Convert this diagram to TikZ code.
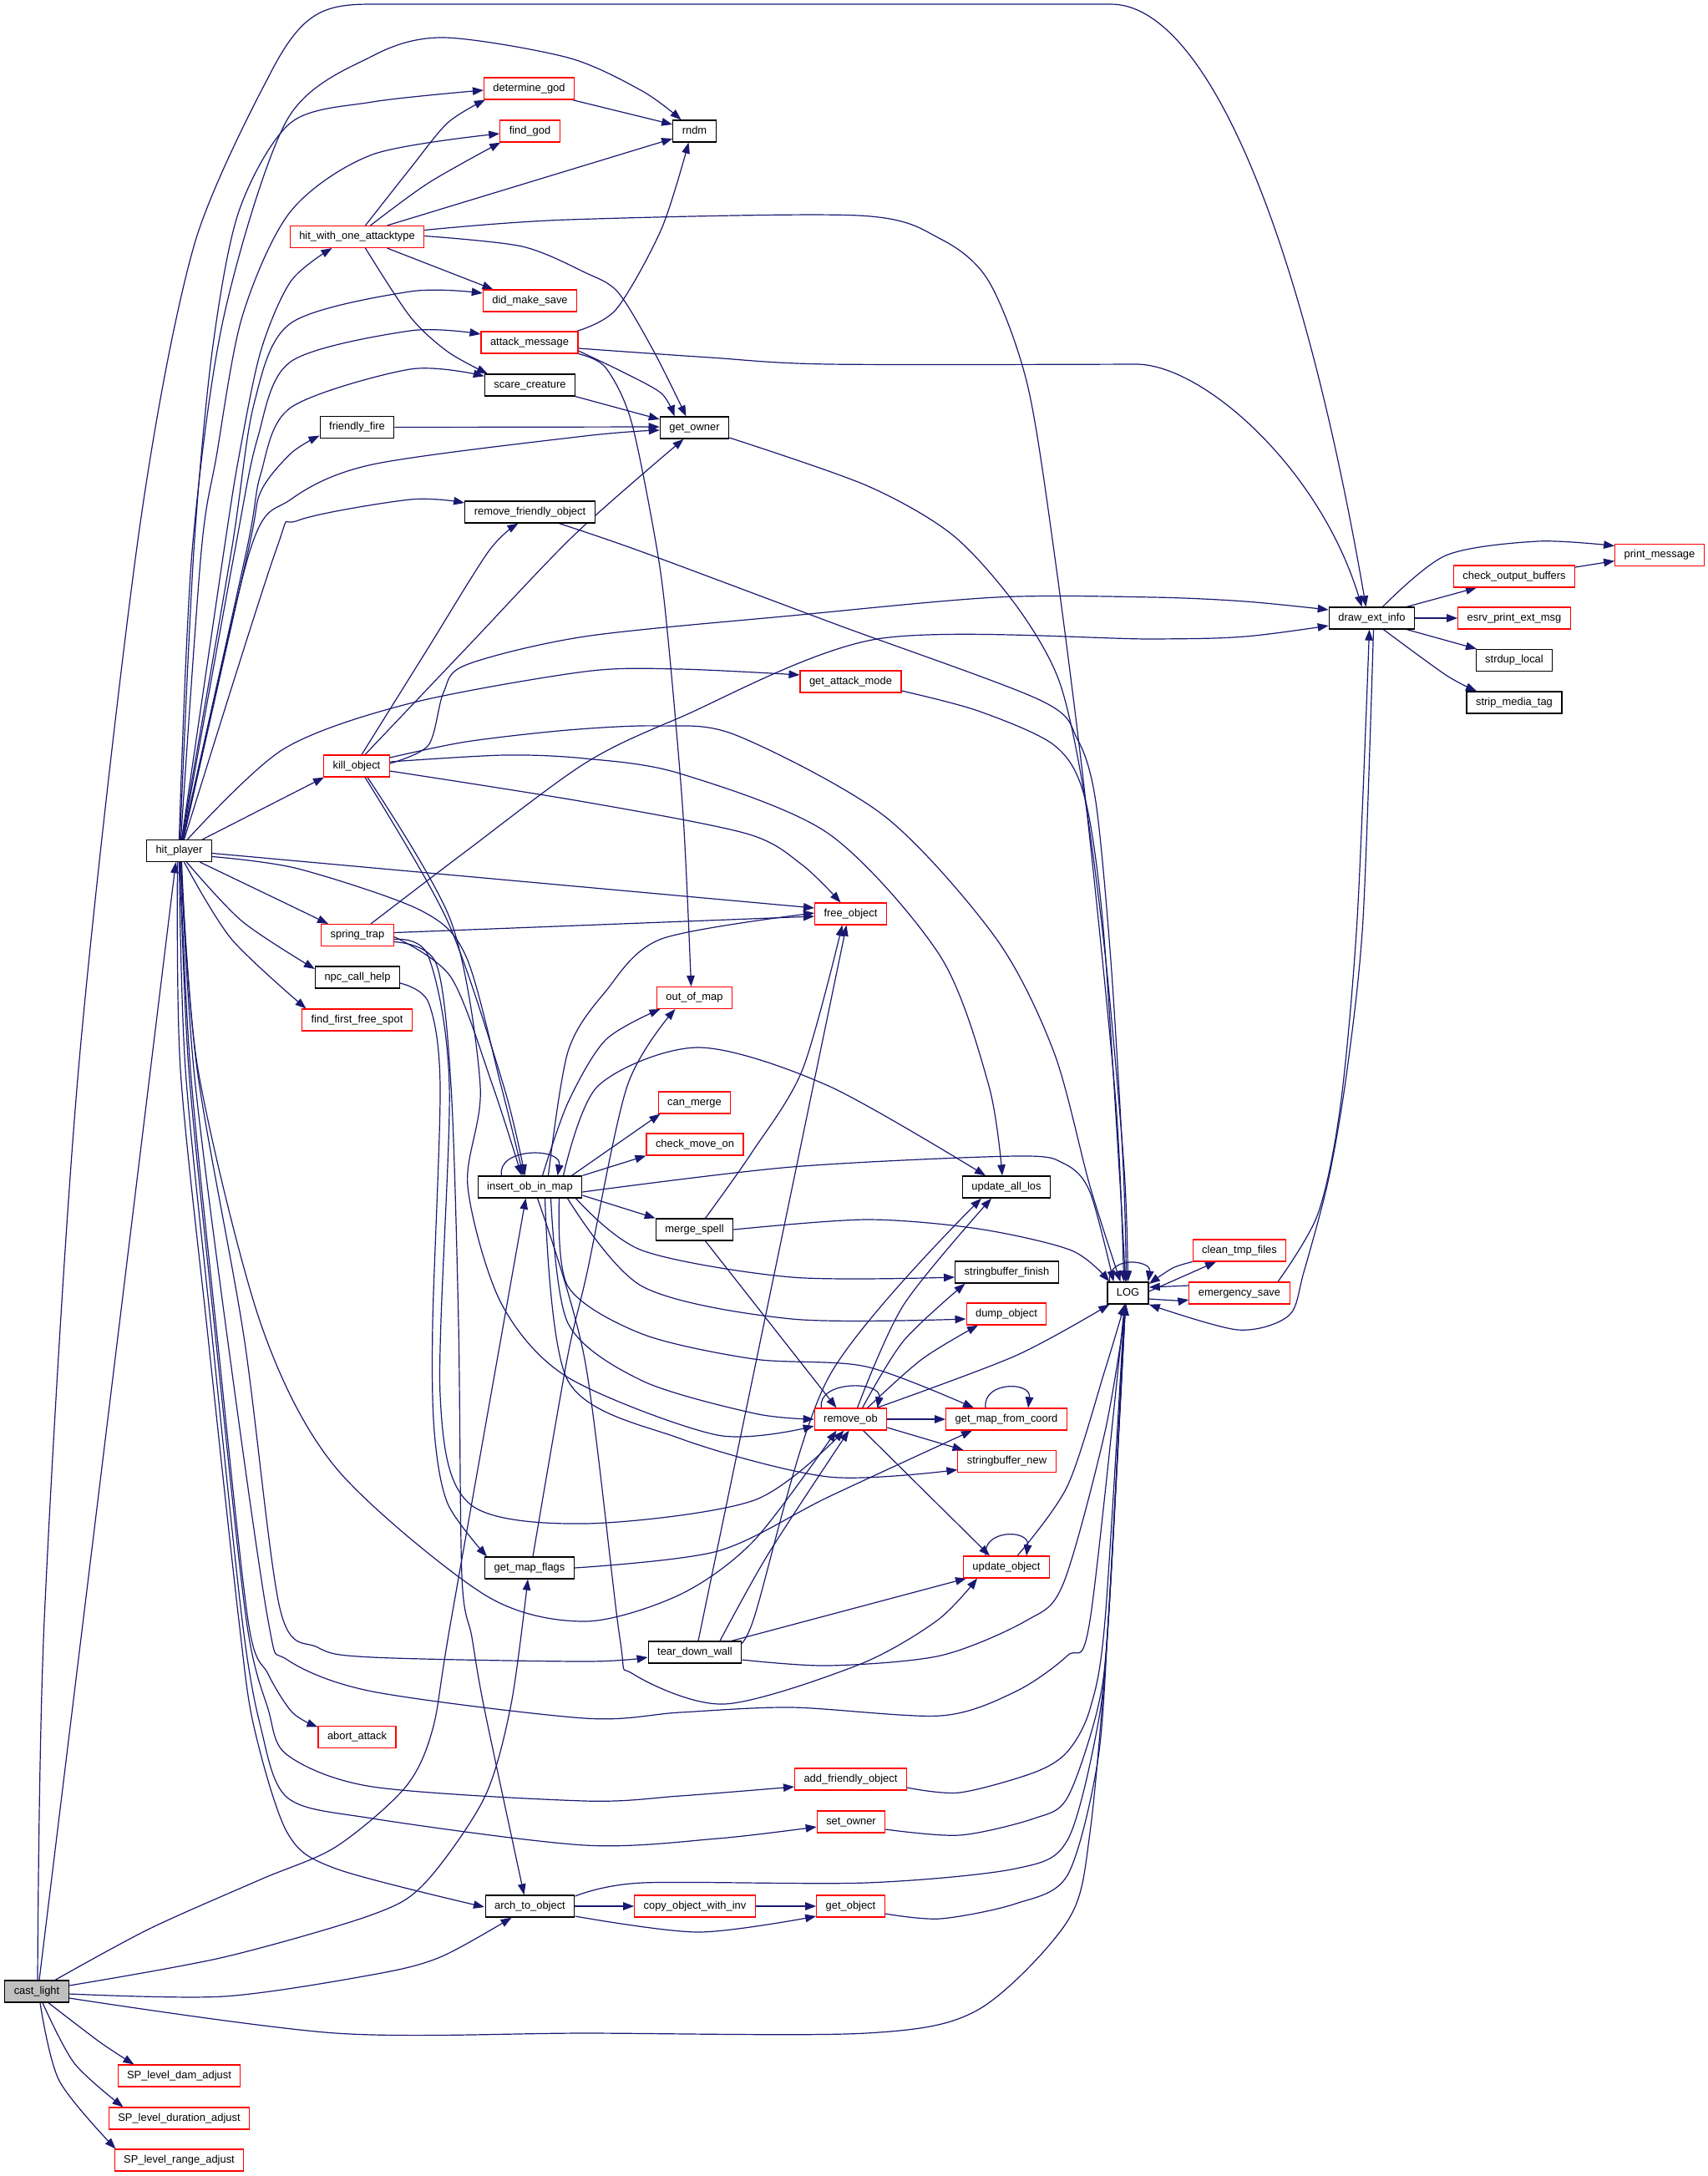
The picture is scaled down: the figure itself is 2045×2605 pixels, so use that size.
\documentclass[tikz,border=0pt]{standalone}
\usepackage{fontspec}
\setmainfont{Liberation Sans}
\usetikzlibrary{arrows.meta}
\pgfdeclarelayer{bg}
\pgfsetlayers{bg,main}
\definecolor{edgeblue}{RGB}{25,25,112}
\definecolor{nodered}{RGB}{255,0,0}
\definecolor{nodegray}{RGB}{191,191,191}
\newcommand\nodefont{\fontsize{12.9}{15}\selectfont}
\tikzset{
  fnb/.style={draw=black, line width=1.3pt, fill=white, minimum height=26pt, inner xsep=11pt, inner ysep=0pt, font=\nodefont, text height=9.6pt, text depth=2.7pt},
  fnr/.style={fnb, draw=nodered, line width=1.1pt},
  fng/.style={fnb, fill=nodegray},
  e/.style={color=edgeblue, line width=1.2pt, -{Triangle[length=13pt,width=9.5pt]}},
  sm/.style={smooth, tension=0.5}
}
\begin{document}
\begin{tikzpicture}[x=1pt,y=-1pt]
\useasboundingbox (0,0) rectangle (2045,2605);
% ---------------- nodes
\node[fng] (cl) at (44,2384) {cast\_light};
\node[fnb] (hp) at (214.5,1018.5) {hit\_player};
\node[fnr] (sld) at (214.5,2485) {SP\_level\_dam\_adjust};
\node[fnr] (sldu) at (214.5,2536) {SP\_level\_duration\_adjust};
\node[fnr] (slr) at (214.5,2586) {SP\_level\_range\_adjust};
\node[fnr] (hwoa) at (427.5,283.5) {hit\_with\_one\_attacktype};
\node[fnb] (ff) at (427.5,511.5) {friendly\_fire};
\node[fnr] (ko) at (427,917) {kill\_object};
\node[fnr] (st) at (428,1119.5) {spring\_trap};
\node[fnb] (npc) at (428,1170) {npc\_call\_help};
\node[fnr] (fffs) at (427.5,1221) {find\_first\_free\_spot};
\node[fnr] (aa) at (427.5,2079.5) {abort\_attack};
\node[fnr] (dg) at (633.5,106) {determine\_god};
\node[fnr] (fg) at (634.5,157) {find\_god};
\node[fnr] (dms) at (634.5,360) {did\_make\_save};
\node[fnr] (am) at (634,410) {attack\_message};
\node[fnb] (sc) at (634.5,461) {scare\_creature};
\node[fnb] (rfo) at (634.5,613) {remove\_friendly\_object};
\node[fnb] (iom) at (634.5,1421) {insert\_ob\_in\_map};
\node[fnb] (gmf) at (634,1877) {get\_map\_flags};
\node[fnb] (ato) at (634.5,2282) {arch\_to\_object};
\node[fnb] (rndm) at (831.5,157) {rndm};
\node[fnb] (go) at (831.5,512) {get\_owner};
\node[fnr] (oom) at (831.5,1194.5) {out\_of\_map};
\node[fnr] (cm) at (831.5,1320) {can\_merge};
\node[fnr] (cmo) at (832,1370) {check\_move\_on};
\node[fnb] (ms) at (831.5,1472) {merge\_spell};
\node[fnb] (tdw) at (832,1978) {tear\_down\_wall};
\node[fnr] (cowi) at (832,2282) {copy\_object\_with\_inv};
\node[fnr] (gam) at (1018.5,816) {get\_attack\_mode};
\node[fnr] (fo) at (1018.5,1094) {free\_object};
\node[fnr] (rob) at (1018.5,1699) {remove\_ob};
\node[fnr] (afo) at (1018.5,2130) {add\_friendly\_object};
\node[fnr] (so) at (1019,2181) {set\_owner};
\node[fnr] (gob) at (1018.5,2282) {get\_object};
\node[fnb] (ual) at (1205,1421) {update\_all\_los};
\node[fnb] (sbf) at (1205.5,1523) {stringbuffer\_finish};
\node[fnr] (dob) at (1205,1573) {dump\_object};
\node[fnr] (gmc) at (1205,1699) {get\_map\_from\_coord};
\node[fnr] (sbn) at (1205.5,1749.5) {stringbuffer\_new};
\node[fnr] (uo) at (1205,1876) {update\_object};
\node[fnb] (log) at (1350.5,1548) {LOG};
\node[fnr] (ctf) at (1484,1497) {clean\_tmp\_files};
\node[fnr] (es) at (1484,1548) {emergency\_save};
\node[fnb] (dei) at (1642.5,740) {draw\_ext\_info};
\node[fnr] (cob) at (1813,690) {check\_output\_buffers};
\node[fnr] (epem) at (1813,740) {esrv\_print\_ext\_msg};
\node[fnb] (sdl) at (1813,790.5) {strdup\_local};
\node[fnb] (smt) at (1813,841) {strip\_media\_tag};
\node[fnr] (pm) at (1987,664.5) {print\_message};
% ---------------- edges
\begin{pgfonlayer}{bg}
% cast_light
\draw[e] plot[sm] coordinates {([xshift=1]cl.north) (53,1940) (94,1280) (166,640) (232,295) (320,95)} .. controls (360,15) and (385,5) .. (445,5) -- (1330,5) .. controls (1440,5) and (1555,260) .. ([xshift=-7]dei.north);
\draw[e] ([xshift=3]cl.north) -- ([xshift=-4]hp.south);
\draw[e] plot[sm] coordinates {([xshift=22]cl.north) (179,2309) (312,2250) (402,2211) (485,2140) (518,2070) (540,1940) ([xshift=-5]iom.south)};
\draw[e] plot[sm] coordinates {([yshift=7]cl.east) (268,2343) (446,2292) (509,2254) (580,2152) (612,2040) ([xshift=-2]gmf.south)};
\draw[e] plot[sm] coordinates {([yshift=-3]cl.east) (268,2390) (446,2364) (527,2343) ([xshift=-22]ato.south)};
\draw[e] plot[sm] coordinates {([yshift=-8]cl.east) (402,2434) (700,2434) (1037,2434) (1171,2406) (1278,2300) (1305,2194) (1327,1940) ([xshift=-4]log.south)};
\draw[e] plot[sm] coordinates {([xshift=14]cl.south) (120,2445) ([xshift=-54]sld.north)};
\draw[e] plot[sm] coordinates {([xshift=7]cl.south) (89,2470) ([xshift=-67]sldu.north)};
\draw[e] plot[sm] coordinates {([xshift=4]cl.south) (71,2491) ([xshift=-76]slr.north)};
% hit_player, upward
\draw[e] plot[sm] coordinates {([xshift=1]hp.north) (232,660) (254,421) (286,253) (348,147) (446,122) ([yshift=-2]dg.west)};
\draw[e] plot[sm] coordinates {([xshift=2]hp.north) (241,660) (259,547) (290,379) (348,253) (446,185) ([yshift=-3]fg.west)};
\draw[e] plot[sm] coordinates {([xshift=3]hp.north) (268,660) (286,547) (312,421) (348,337) ([xshift=-30]hwoa.south)};
\draw[e] plot[sm] coordinates {([xshift=3]hp.north) (277,660) (304,484) (348,387) (491,349) ([yshift=9]dms.west)};
\draw[e] plot[sm] coordinates {([xshift=4]hp.north) (281,660) (308,526) (348,433) (491,396) ([yshift=10]am.west)};
\draw[e] plot[sm] coordinates {([xshift=4]hp.north) (295,660) (312,568) (348,488) (491,442) ([yshift=-3]sc.north west)};
\draw[e] plot[sm] coordinates {([xshift=5]hp.north) (297,660) (312,589) (348,543) ([yshift=-10]ff.west)};
\draw[e] plot[sm] coordinates {([xshift=5]hp.north) (299,660) (348,598) (446,556) (700,522) ([yshift=-3]go.west)};
\draw[e] plot[sm] coordinates {([xshift=6]hp.north) (330,660) (357,623) (491,598) ([yshift=11]rfo.west)};
\draw[e] plot[sm] coordinates {(hp.north) (230,660) (268,379) (344,143) (446,67) (531,45) (680,69) (769,109) ([xshift=-16]rndm.north)};
\draw[e] plot[sm] coordinates {([xshift=10]hp.north) (339,897) (491,842) (700,804) (814,801) ([yshift=8]gam.west)};
\draw[e] ([xshift=28]hp.north) -- ([xshift=-39]ko.south);
\draw[e] ([yshift=-3]hp.east) -- ([yshift=7]fo.west);
\draw[e] plot[sm] coordinates {([yshift=-7]hp.east) (357,1040) (504,1090) (558,1145) (600,1300) ([xshift=-8]iom.north)};
\draw[e] plot[sm] coordinates {([xshift=25]hp.south) (335,1078) ([xshift=-35]st.north)};
\draw[e] plot[sm] coordinates {([xshift=9]hp.south) (290,1103) ([yshift=10]npc.west)};
\draw[e] plot[sm] coordinates {([xshift=6]hp.south) (277,1124) ([xshift=-61]fffs.north)};
% hit_player, downward
\draw[e] plot[sm] coordinates {([xshift=-2]hp.south) (216,1280) (249,1600) (286,1940) (304,2067) (344,2194) (402,2237) (580,2283)};
\draw[e] plot[sm] coordinates {(hp.south) (222,1280) (254,1600) (290,1940) (312,2067) (344,2152) (446,2177) (700,2209) (859,2201) ([yshift=-6]so.west)};
\draw[e] plot[sm] coordinates {([xshift=1]hp.south) (226,1280) (258,1600) (295,1940) (321,2046) (344,2101) (446,2139) (700,2156) (814,2150) ([yshift=-9]afo.west)};
\draw[e] plot[sm] coordinates {([xshift=1]hp.south) (228,1280) (260,1600) (297,1940) (321,2004) (350,2050) ([yshift=12]aa.west)};
\draw[e] plot[sm] coordinates {([xshift=2]hp.south) (232,1280) (272,1600) (321,1940) (344,1987) (446,2025) (700,2057) (814,2050) (948,2044) (1126,2054) (1216,2025) (1278,1982) (1305,1940) ([xshift=-4]log.south)};
\draw[e] plot[sm] coordinates {([xshift=2]hp.south) (236,1280) (292,1600) (335,1925) (380,1972) (446,1984) (700,1989) ([yshift=-6]tdw.west)};
\draw[e] plot[sm] coordinates {([xshift=3]hp.south) (237,1280) (312,1584) (402,1757) (580,1909) (700,1941) (814,1909) (903,1844) ([xshift=-17]rob.south)};
% hit_with_one_attacktype
\draw[e] plot[sm] coordinates {([xshift=10]hwoa.north) (491,202) (536,147) ([xshift=2]dg.south west)};
\draw[e] plot[sm] coordinates {([xshift=16]hwoa.north) (513,219) ([xshift=1]fg.south west)};
\draw[e] ([xshift=36]hwoa.north) -- ([yshift=-9]rndm.west);
\draw[e] plot[sm] coordinates {([yshift=8]hwoa.east) (680,263) (1028,258) (1126,286) (1184,337) (1230,460) (1262,660) (1300,960) (1336,1320) ([xshift=-5]log.north)};
\draw[e] plot[sm] coordinates {([yshift=1]hwoa.east) (625,295) (700,326) (740,350) (783,421) ([xshift=-10]go.north)};
\draw[e] ([xshift=36]hwoa.south) -- ([xshift=-44]dms.north);
\draw[e] plot[sm] coordinates {([xshift=10]hwoa.south) (491,379) (536,421) ([xshift=4]sc.north west)};
\draw[e] ([xshift=-3]dg.south east) -- ([yshift=8]rndm.west);
% attack_message
\draw[e] plot[sm] coordinates {([xshift=-2]am.north east) (738,370) (792,274) ([xshift=-7]rndm.south)};
\draw[e] plot[sm] coordinates {([yshift=-7]am.east) (850,428) (992,436) (1360,436)} .. controls (1440,436) and (1580,560) .. ([xshift=-12]dei.north);
\draw[e] plot[sm] coordinates {([yshift=-10]am.east) (747,446) (792,471) ([xshift=-24]go.north)};
\draw[e] plot[sm] coordinates {(am.south east) (725,440) (756,505) (787,660) (800,766) (818,977) ([xshift=-4]oom.north)};
\draw[e] (sc.south east) -- ([yshift=10]go.west);
\draw[e] (ff.east) -- ([yshift=1]go.west);
% kill_object
\draw[e] plot[sm] coordinates {([xshift=10]ko.north) (560,774) (688,640) ([xshift=-13]go.south)};
\draw[e] plot[sm] coordinates {([xshift=6]ko.north) (510,780) (585,660) ([xshift=-14]rfo.south)};
\draw[e] plot[sm] coordinates {([yshift=3]ko.east) (513,892) (531,829) (558,796) (700,762) (948,737) (1193,715) (1380,715) (1491,720) ([yshift=10]dei.west)};
\draw[e] plot[sm] coordinates {([yshift=10]ko.east) (558,888) (680,874) (787,869) (881,880) (1059,977) (1193,1124) (1262,1260) (1305,1420) ([xshift=-9]log.north)};
\draw[e] plot[sm] coordinates {([yshift=5]ko.east) (603,904) (700,908) (814,926) (992,998) (1126,1145) (1184,1300) ([xshift=-5]ual.north)};
\draw[e] plot[sm] coordinates {([yshift=-6]ko.east) (700,960) (894,998) (960,1035) ([xshift=-12]fo.north)};
\draw[e] plot[sm] coordinates {([xshift=10]ko.south) (536,1103) (603,1300) ([xshift=-6]iom.north)};
\draw[e] plot[sm] coordinates {([xshift=13]ko.south) (540,1103) (575,1300) (560,1420) (600,1560) (680,1649) (859,1718) ([yshift=-8]rob.west)};
% remove_friendly_object, get_owner, get_attack_mode
\draw[e] plot[sm] coordinates {([xshift=35]rfo.south) (767,660) (1000,747) (1245,838) (1290,885) (1312,960) (1330,1150) (1345,1400) ([xshift=-2]log.north)};
\draw[e] plot[sm] coordinates {([yshift=-12]go.east) (1037,581) (1140,640) (1216,724) (1268,815) (1298,950) (1324,1150) (1346,1400) (log.north)};
\draw[e] plot[sm] coordinates {([yshift=-11]gam.east) (1171,851) (1262,892) (1298,952) (1320,1100) (1340,1400) ([xshift=-3]log.north)};
% spring_trap
\draw[e] plot[sm] coordinates {([xshift=16]st.north) (558,1019) (700,914) (814,859) (1050,765) (1380,765) (1491,762) ([yshift=-9]dei.west)};
\draw[e] ([yshift=3]st.east) -- ([yshift=-3]fo.west);
\draw[e] plot[sm] coordinates {([yshift=-2]st.east) (540,1170) (590,1300) ([xshift=-10]iom.north)};
\draw[e] plot[sm] coordinates {([yshift=-5]st.east) (513,1145) (538,1300) (527,1670) (562,1800) (700,1824) (903,1796) ([xshift=-8]rob.south)};
\draw[e] plot[sm] coordinates {([yshift=-8]st.east) (522,1153) (540,1300) (549,1584) (553,1887) (565,1960) (580,2046) ([xshift=-7]ato.north)};
\draw[e] plot[sm] coordinates {([yshift=-7]npc.east) (513,1200) (527,1300) (518,1584) (520,1714) (536,1800) ([xshift=-51]gmf.north)};
% insert_ob_in_map
\draw[e] ([xshift=-34]iom.north) .. controls +(-6,-34) and +(6,-34) .. ([xshift=33]iom.north);
\draw[e] plot[sm] coordinates {([xshift=15]iom.north) (680,1320) (725,1245) ([xshift=-41]oom.south)};
\draw[e] plot[sm] coordinates {([xshift=22]iom.north) (680,1259) (725,1187) (792,1124) ([yshift=1]fo.west)};
\draw[e] plot[sm] coordinates {([xshift=40]iom.north) (716,1300) (836,1254) (992,1300) ([xshift=-25]ual.north)};
\draw[e] ([xshift=50]iom.north) -- ([xshift=-41]cm.south);
\draw[e] (iom.north east) -- (cmo.south west);
\draw[e] plot[sm] coordinates {([yshift=-6]iom.east) (948,1397) (1216,1384) (1274,1393) (1305,1427) ([xshift=8]log.north west)};
\draw[e] ([yshift=-10]iom.east) -- (ms.north west);
\draw[e] plot[sm] coordinates {([xshift=55]iom.south) (769,1497) (948,1529) ([yshift=-6]sbf.west)};
\draw[e] plot[sm] coordinates {([xshift=45]iom.south) (769,1540) (948,1579) ([yshift=-6]dob.west)};
\draw[e] plot[sm] coordinates {([xshift=35]iom.south) (680,1540) (769,1597) (903,1627) (1037,1636) ([xshift=-39]gmc.north)};
\draw[e] plot[sm] coordinates {([xshift=25]iom.south) (680,1584) (769,1653) (903,1692) (rob.west)};
\draw[e] plot[sm] coordinates {([xshift=18]iom.south) (680,1653) (814,1722) (992,1768) ([yshift=-10]sbn.west)};
\draw[e] plot[sm] coordinates {([xshift=9]iom.south) (700,1627) (742,1960) (758,2004) (867,2040) (1028,1993) (1122,1940) ([xshift=-35]uo.south)};
% get_map_flags
\draw[e] plot[sm] coordinates {([xshift=4]gmf.north) (679,1627) (703,1523) (751,1300) ([xshift=-23]oom.south)};
\draw[e] plot[sm] coordinates {(gmf.east) (859,1857) (992,1792) ([xshift=-41]gmc.south)};
% merge_spell
\draw[e] plot[sm] coordinates {([xshift=13]ms.north) (900,1380) (961,1280) ([xshift=-10]fo.south)};
\draw[e] plot[sm] coordinates {(ms.east) (1037,1460) (1171,1471) (1283,1497) ([xshift=3]log.north west)};
\draw[e] ([xshift=13]ms.south) -- ([xshift=-17]rob.north);
% remove_ob
\draw[e] ([xshift=-35]rob.north) .. controls +(-6,-33) and +(6,-33) .. ([xshift=32]rob.north);
\draw[e] plot[sm] coordinates {([xshift=8]rob.north) (1082,1562) ([xshift=-18]ual.south)};
\draw[e] plot[sm] coordinates {([xshift=14]rob.north) (1082,1605) ([xshift=-50]sbf.south)};
\draw[e] plot[sm] coordinates {([xshift=20]rob.north) (1104,1627) ([xshift=-34]dob.south)};
\draw[e] plot[sm] coordinates {([xshift=31]rob.north) (1216,1623) ([xshift=3]log.south west)};
\draw[e] (rob.east) -- (gmc.west);
\draw[e] ([yshift=-10]rob.east) -- ([xshift=-52]sbn.north);
\draw[e] ([xshift=15]rob.south) -- ([xshift=-20]uo.north);
% tear_down_wall
\draw[e] ([xshift=4]tdw.north) -- ([xshift=-5]fo.south);
\draw[e] plot[sm] coordinates {([xshift=42]tdw.north) (900,1945) (992,1649) ([xshift=-30]ual.south)};
\draw[e] plot[sm] coordinates {([xshift=30]tdw.north) (920,1860) ([xshift=-2]rob.south)};
\draw[e] ([xshift=44]tdw.north) -- ([xshift=-48]uo.south);
\draw[e] plot[sm] coordinates {([yshift=-9]tdw.east) (992,1994) (1126,1982) (1229,1940) (1273,1896) (1323,1714) ([xshift=-2]log.south)};
% get_map_from_coord, update_object
\draw[e] ([xshift=-25]gmc.north) .. controls +(-4,-32) and +(4,-32) .. ([xshift=26]gmc.north);
\draw[e] ([xshift=-25]uo.north) .. controls +(-4,-32) and +(4,-32) .. ([xshift=24]uo.north);
\draw[e] plot[sm] coordinates {([xshift=13]uo.north) (1278,1779) (1323,1640) ([xshift=-4]log.south)};
% arch_to_object etc.
\draw[e] (ato.east) -- (cowi.west);
\draw[e] (cowi.east) -- (gob.west);
\draw[e] plot[sm] coordinates {([yshift=-12]ato.east) (836,2313) ([yshift=-12]gob.west)};
\draw[e] plot[sm] coordinates {([yshift=12]ato.east) (769,2254) (1037,2254) (1216,2237) (1278,2203) (1314,2067) (1327,1940) ([xshift=-3]log.south)};
\draw[e] plot[sm] coordinates {([yshift=-9]gob.east) (1126,2297) (1216,2279) (1278,2245) (1314,2110) (1327,1940) ([xshift=-3]log.south)};
\draw[e] plot[sm] coordinates {([yshift=-10]afo.east) (1149,2146) (1238,2122) (1278,2097) (1305,2046) (1323,1940) ([xshift=-4]log.south)};
\draw[e] plot[sm] coordinates {([yshift=-9]so.east) (1149,2197) (1238,2177) (1278,2152) (1314,2046) (1327,1940) ([xshift=-3]log.south)};
% LOG and friends
\draw[e] ([xshift=-22]log.north) .. controls +(-3,-32) and +(4,-26) .. ([xshift=-1]log.north east);
\draw[e] ([yshift=2]log.east) -- ([xshift=-28]ctf.south);
\draw[e] plot[sm] coordinates {(ctf.south west) (1404,1518) ([yshift=11]log.east)};
\draw[e] ([yshift=9]es.west) -- ([yshift=7]log.east);
\draw[e] plot[sm] coordinates {([yshift=-7]log.east) (1410,1557) ([yshift=-8]es.west)};
\draw[e] plot[sm] coordinates {([xshift=46]es.north) (1578,1453) (1605,1323) (1625,1100) ([xshift=-3]dei.south)};
\draw[e] plot[sm] coordinates {([xshift=2]dei.south) (1632,1100) (1613,1280) (1591,1410) (1561,1523) (1543,1575) (1482,1592) (log.south east)};
% draw_ext_info
\draw[e] plot[sm] coordinates {([xshift=13]dei.north) (1731,665) (1841,648) ([yshift=11]pm.west)};
\draw[e] ([xshift=42]dei.north) -- ([xshift=-45]cob.south);
\draw[e] (dei.east) -- (epem.west);
\draw[e] ([xshift=42]dei.south) -- ([xshift=-45]sdl.north);
\draw[e] plot[sm] coordinates {([xshift=14]dei.south) (1731,808) ([xshift=-45]smt.north)};
\draw[e] ([yshift=11]cob.east) -- ([yshift=-7]pm.west);
\end{pgfonlayer}
\end{tikzpicture}
\end{document}
